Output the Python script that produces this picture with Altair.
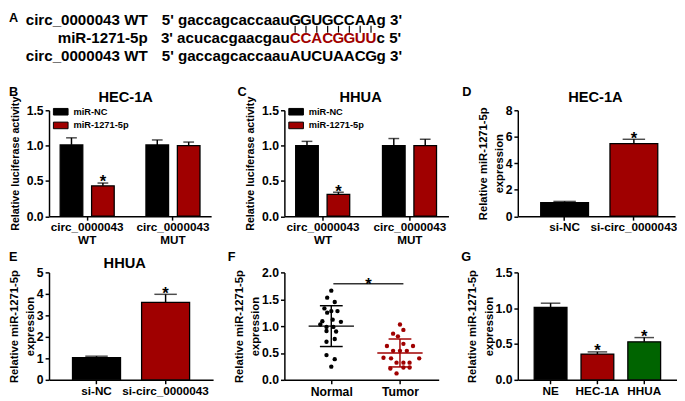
import altair as alt
import pandas as pd

FONT = "Liberation Sans"
BLACK = "#000000"
RED = "#a00000"
GREEN = "#006400"

# ---------------- data ----------------
# Panel A: binding-site sequences
seq_labels = ["circ_0000043 WT", "miR-1271-5p", "circ_0000043 WT"]
seq_prefix = ["5' gaccagcaccaau", "3' acucacgaacgau", "5' gaccagcaccaau"]
seq_core = ["GGUGCCAA", "CCACGGUU", "AUCUAACG"]
seq_suffix = ["g 3'", "c 5'", "g 3'"]
seq_core_color = [BLACK, RED, BLACK]
pair_sites = [0, 1, 2, 3, 4, 5, 6, 7]

# Panels B, C: luciferase reporter
luc_groups = ["circ_0000043|WT", "circ_0000043|MUT"]
luc_series = ["miR-NC", "miR-1271-5p"]
b_values = [1.01, 0.43, 1.01, 1.00]
b_errors = [0.10, 0.04, 0.07, 0.05]
b_marks = ["", "*", "", ""]
c_values = [1.00, 0.31, 1.00, 1.00]
c_errors = [0.06, 0.03, 0.10, 0.09]
c_marks = ["", "*", "", ""]

# Panels D, E: knockdown
si_groups = ["si-NC", "si-circ_0000043"]
d_values = [1.03, 5.49]
d_errors = [0.09, 0.32]
d_marks = ["", "*"]
e_values = [1.03, 3.61]
e_errors = [0.07, 0.37]
e_marks = ["", "*"]

# Panel F: tissues
tissue_groups = ["Normal", "Tumor"]
normal_values = [1.66, 1.53, 1.45, 1.33, 1.28, 1.28, 1.25, 1.09, 1.12, 1.08,
                 1.03, 0.985, 0.985, 0.90, 0.91, 0.76, 0.71, 0.46, 0.385, 0.245]
normal_jitter = [0.0, -0.06, 0.05, -0.10, 0.0, 0.09, -0.06, -0.13, 0.02, 0.14,
                 -0.16, -0.07, 0.03, 0.07, -0.07, 0.05, -0.07, -0.07, 0.05, 0.0]
tumor_values = [1.03, 0.93, 0.86, 0.81, 0.63, 0.67, 0.63, 0.54, 0.54, 0.54,
                0.41, 0.40, 0.40, 0.32, 0.32, 0.32, 0.21, 0.23, 0.23, 0.12]
tumor_jitter = [0.0, 0.05, -0.10, -0.03, -0.19, 0.05, 0.19, -0.10, 0.0, 0.10,
                -0.24, -0.13, 0.28, -0.05, 0.05, 0.14, -0.14, 0.05, 0.14, -0.05]
tissue_means = [1.00, 0.50]
tissue_sds = [0.38, 0.26]
tissue_sig = {"from": 1.03, "to": 2.05, "level": 1.79, "mark": "*"}

# Panel G: cell lines
cell_groups = ["NE", "HEC-1A", "HHUA"]
g_values = [1.01, 0.36, 0.53]
g_errors = [0.06, 0.03, 0.06]
g_marks = ["", "*", "*"]

# ---------------- helpers ----------------
ONE = pd.DataFrame({"k": [0]})
STAR_SIZE = 17
STAR_DY = 4.5


def label(txt, x, y, size=13, align="left", baseline="middle", color=BLACK):
    return alt.Chart(ONE).mark_text(
        text=txt, align=align, baseline=baseline, fontSize=size,
        fontWeight="bold", font=FONT, color=color
    ).encode(x=alt.value(x), y=alt.value(y))


def y_axis_expr(values, fmt):
    return alt.Axis(title=["Relative miR-1271-5p", "expression"], values=values,
                    format=fmt, titleFontSize=11.5, titleLineHeight=16.5,
                    titlePadding=1)


def panel_A_layers():
    rows = pd.DataFrame({"row": [0, 1, 2], "label": seq_labels,
                         "prefix": seq_prefix, "suffix": seq_suffix})
    core = pd.DataFrame(
        [{"row": r, "site": i, "letter": ch, "color": seq_core_color[r]}
         for r, s in enumerate(seq_core) for i, ch in enumerate(s)])
    row_scale = alt.Scale(domain=[0, 2], range=[-92.5, -55.5], nice=False, zero=False)
    site_scale = alt.Scale(domain=[0, 7], range=[252, 329.7], nice=False, zero=False)
    txt = dict(baseline="middle", fontSize=15.5, fontWeight="bold", font=FONT, color=BLACK)
    ry = alt.Y("row:Q", scale=row_scale, axis=None)
    lab = alt.Chart(rows).mark_text(align="right", **txt).encode(
        x=alt.value(101), y=ry, text="label:N")
    pre = alt.Chart(rows).mark_text(align="right", **txt).encode(
        x=alt.value(246.5), y=ry, text="prefix:N")
    suf = alt.Chart(rows).mark_text(align="left", **txt).encode(
        x=alt.value(335.4), y=ry, text="suffix:N")
    txt2 = dict(txt)
    txt2.pop("color")
    cor = alt.Chart(core).mark_text(align="center", **txt2).encode(
        x=alt.X("site:Q", scale=site_scale, axis=None), y=ry, text="letter:N",
        color=alt.Color("color:N", scale=None))
    pairs = alt.Chart(pd.DataFrame({"site": pair_sites})).mark_rule(
        color=BLACK, strokeWidth=1.2).encode(
        x=alt.X("site:Q", scale=site_scale, axis=None),
        y=alt.value(-86.5), y2=alt.value(-79.5))
    return [lab, pre, suf, cor, pairs, label("A", -41, -100, baseline="top")]


def luc_panel(values, errors, marks, title, letter, width, xrange, title_x, letter_x, with_A=False):
    df = pd.DataFrame({
        "group": [g for g in luc_groups for _ in luc_series],
        "series": luc_series * len(luc_groups),
        "value": values, "err": errors, "mark": marks})
    base = alt.Chart(df).transform_calculate(top="datum.value + datum.err")
    xaxis = alt.Axis(title=None, labelExpr="split(datum.label, '|')", labelLineHeight=13,
                     labelFontSize=12)
    yaxis = alt.Axis(title="Relative luciferase activity", values=[0, 0.5, 1.0, 1.5],
                     format=".1f", titleFontSize=11, titlePadding=6)
    xenc = alt.X("group:N", sort=luc_groups,
                 scale=alt.Scale(domain=luc_groups, range=[0, xrange],
                                 paddingInner=0.37, paddingOuter=0.13), axis=xaxis)
    xo = alt.XOffset("series:N", sort=luc_series,
                     scale=alt.Scale(domain=luc_series, paddingInner=0.28, paddingOuter=0))
    ysc = alt.Scale(domain=[0, 1.5], nice=False)
    bars = base.mark_bar(stroke=BLACK, strokeWidth=1.3).encode(
        x=xenc, xOffset=xo, y=alt.Y("value:Q", scale=ysc, axis=yaxis),
        color=alt.Color("series:N", sort=luc_series,
                        scale=alt.Scale(domain=luc_series, range=[BLACK, RED]),
                        legend=alt.Legend(title=None, orient="none", legendX=4, legendY=-6.5,
                                          direction="vertical",
                                          symbolType="M-1,-0.45H1V0.45H-1Z", symbolSize=225,
                                          symbolStrokeColor=BLACK, symbolStrokeWidth=1,
                                          labelFont=FONT, labelFontSize=9.5,
                                          labelFontWeight="bold", labelColor=BLACK,
                                          labelOffset=5, rowPadding=-6, padding=0)))
    err = base.mark_rule(color=BLACK, strokeWidth=1.5).encode(
        x=xenc, xOffset=xo, y=alt.Y("value:Q", scale=ysc, axis=yaxis), y2="top:Q")
    cap = base.mark_tick(color=BLACK, thickness=1.5, size=11).encode(
        x=xenc, xOffset=xo, y=alt.Y("top:Q", scale=ysc, axis=yaxis))
    star = base.mark_text(fontSize=STAR_SIZE, fontWeight="bold", font=FONT, color=BLACK,
                          baseline="alphabetic", dy=STAR_DY).encode(
        x=xenc, xOffset=xo, y=alt.Y("top:Q", scale=ysc, axis=yaxis), text="mark:N")
    inner = alt.layer(bars, err, cap, star)
    extras = [label(title, title_x, -13.5, size=15, align="center"),
              label(letter, letter_x, -19)]
    if with_A:
        ch = alt.layer(inner, *extras, *panel_A_layers()).resolve_scale(
            x="independent", y="independent")
    else:
        ch = alt.layer(inner, *extras)
    return ch.properties(width=width, height=108.5)


def simple_bar_panel(groups, colors, values, errors, marks, ydomain, yvalues, yfmt,
                     title, letter, width, height, xrange, pin, pout, balign, cap_size,
                     title_xy, letter_xy):
    df = pd.DataFrame({"group": groups, "value": values, "err": errors, "mark": marks})
    base = alt.Chart(df).transform_calculate(top="datum.value + datum.err")
    xaxis = alt.Axis(title=None, labelFontSize=12)
    yaxis = y_axis_expr(yvalues, yfmt)
    xenc = alt.X("group:N", sort=groups,
                 scale=alt.Scale(domain=groups, range=[0, xrange], align=balign,
                                 paddingInner=pin, paddingOuter=pout), axis=xaxis)
    ysc = alt.Scale(domain=ydomain, nice=False)
    bars = base.mark_bar(stroke=BLACK, strokeWidth=1.3).encode(
        x=xenc, y=alt.Y("value:Q", scale=ysc, axis=yaxis),
        color=alt.Color("group:N", sort=groups,
                        scale=alt.Scale(domain=groups, range=colors), legend=None))
    err = base.mark_rule(color=BLACK, strokeWidth=1.5).encode(
        x=xenc, y=alt.Y("value:Q", scale=ysc, axis=yaxis), y2="top:Q")
    cap = base.mark_tick(color=BLACK, thickness=1.5, size=cap_size).encode(
        x=xenc, y=alt.Y("top:Q", scale=ysc, axis=yaxis))
    star = base.mark_text(fontSize=STAR_SIZE, fontWeight="bold", font=FONT, color=BLACK,
                          baseline="alphabetic", dy=STAR_DY).encode(
        x=xenc, y=alt.Y("top:Q", scale=ysc, axis=yaxis), text="mark:N")
    layers = [bars, err, cap, star]
    if title:
        layers.append(label(title, title_xy[0], title_xy[1], size=15, align="center"))
    layers.append(label(letter, letter_xy[0], letter_xy[1]))
    return alt.layer(*layers).properties(width=width, height=height)


def tissue_panel():
    pts = pd.DataFrame({
        "group": ["Normal"] * len(normal_values) + ["Tumor"] * len(tumor_values),
        "value": normal_values + tumor_values,
        "jitter": normal_jitter + tumor_jitter})
    stats = pd.DataFrame({"group": tissue_groups, "mean": tissue_means, "sd": tissue_sds})
    sig = pd.DataFrame([tissue_sig])
    calc_pos = "datum.group == 'Normal' ? 1 : 2"
    xsc = alt.Scale(domain=[0.317, 2.564], range=[0, 158], nice=False, zero=False)
    xaxis = alt.Axis(title=None, values=[1, 2], labelFontSize=12.5,
                     labelExpr="datum.value == 1 ? 'Normal' : 'Tumor'")
    ysc = alt.Scale(domain=[0, 2], nice=False)
    yaxis = y_axis_expr([0, 0.5, 1.0, 1.5, 2.0], ".1f")
    col = alt.Color("group:N", sort=tissue_groups,
                    scale=alt.Scale(domain=tissue_groups, range=[BLACK, RED]), legend=None)
    points = alt.Chart(pts).transform_calculate(
        xq=f"({calc_pos}) + datum.jitter").mark_circle(size=20, opacity=1).encode(
        x=alt.X("xq:Q", scale=xsc, axis=xaxis),
        y=alt.Y("value:Q", scale=ysc, axis=yaxis), color=col)
    sbase = alt.Chart(stats).transform_calculate(
        pos=calc_pos, lo="datum.mean - datum.sd", hi="datum.mean + datum.sd",
        ml=f"({calc_pos}) - 0.33", mr=f"({calc_pos}) + 0.33",
        cl=f"({calc_pos}) - 0.166", cr=f"({calc_pos}) + 0.166")
    mean_line = sbase.mark_rule(strokeWidth=1.5).encode(
        x=alt.X("ml:Q", scale=xsc, axis=xaxis), x2="mr:Q",
        y=alt.Y("mean:Q", scale=ysc, axis=yaxis), color=col)
    sd_line = sbase.mark_rule(strokeWidth=1.5).encode(
        x=alt.X("pos:Q", scale=xsc, axis=xaxis),
        y=alt.Y("lo:Q", scale=ysc, axis=yaxis), y2="hi:Q", color=col)
    cap_lo = sbase.mark_rule(strokeWidth=1.5).encode(
        x=alt.X("cl:Q", scale=xsc, axis=xaxis), x2="cr:Q",
        y=alt.Y("lo:Q", scale=ysc, axis=yaxis), color=col)
    cap_hi = sbase.mark_rule(strokeWidth=1.5).encode(
        x=alt.X("cl:Q", scale=xsc, axis=xaxis), x2="cr:Q",
        y=alt.Y("hi:Q", scale=ysc, axis=yaxis), color=col)
    sig_line = alt.Chart(sig).mark_rule(strokeWidth=1.5, color="#333333").encode(
        x=alt.X("from:Q", scale=xsc, axis=xaxis), x2="to:Q",
        y=alt.Y("level:Q", scale=ysc, axis=yaxis))
    sig_star = alt.Chart(sig).transform_calculate(
        mid="(datum.from + datum.to) / 2").mark_text(
        fontSize=STAR_SIZE, fontWeight="bold", font=FONT, color=BLACK,
        baseline="alphabetic", dy=6.5).encode(
        x=alt.X("mid:Q", scale=xsc, axis=xaxis),
        y=alt.Y("level:Q", scale=ysc, axis=yaxis), text="mark:N")
    return alt.layer(points, mean_line, sd_line, cap_lo, cap_hi, sig_line, sig_star,
                     label("F", -58, -16)).properties(width=168, height=110)


# ---------------- panels ----------------
B = luc_panel(b_values, b_errors, b_marks, "HEC-1A", "B", 169, 166, 78.5, -41, with_A=True)
C = luc_panel(c_values, c_errors, c_marks, "HHUA", "C", 177, 168, 78, -48)
D = simple_bar_panel(si_groups, [BLACK, RED], d_values, d_errors, d_marks, [0, 8],
                     [0, 2, 4, 6, 8], "d", "HEC-1A", "D", 161, 108.5, 161, 0.31, 0.29, 0.57,
                     23, (79.5, -13.5), (-57, -19))
E = simple_bar_panel(si_groups, [BLACK, RED], e_values, e_errors, e_marks, [0, 5],
                     [0, 1, 2, 3, 4, 5], "d", "HHUA", "E", 179, 110, 168, 0.305, 0.34, 0.5,
                     23, (77.5, -9.5), (-41, -16))
F = tissue_panel()
G = simple_bar_panel(cell_groups, [BLACK, RED, GREEN], g_values, g_errors, g_marks, [0, 1.5],
                     [0, 0.5, 1.0, 1.5], ".1f", None, "G", 163, 110, 163, 0.3, 0.35, 0.5,
                     20, (0, 0), (-58, -16))

chart = alt.concat(
    B, C, D, E, F, G, columns=3, spacing={"row": 57, "column": 62},
    bounds="flush", align="none"
).resolve_scale(color="independent").resolve_legend(color="independent").properties(
    padding=0
).configure_view(stroke=None).configure_axis(
    labelFont=FONT, titleFont=FONT, labelFontWeight="bold", titleFontWeight="bold",
    labelColor=BLACK, titleColor=BLACK, domainColor=BLACK, tickColor=BLACK,
    domainWidth=1.5, tickWidth=1.5, tickSize=4, grid=False, labelPadding=2
).configure_axisY(labelFontSize=12.5).configure_axisX(labelAngle=0)

chart.save("out.html", embed_options={"renderer": "svg", "actions": False})
